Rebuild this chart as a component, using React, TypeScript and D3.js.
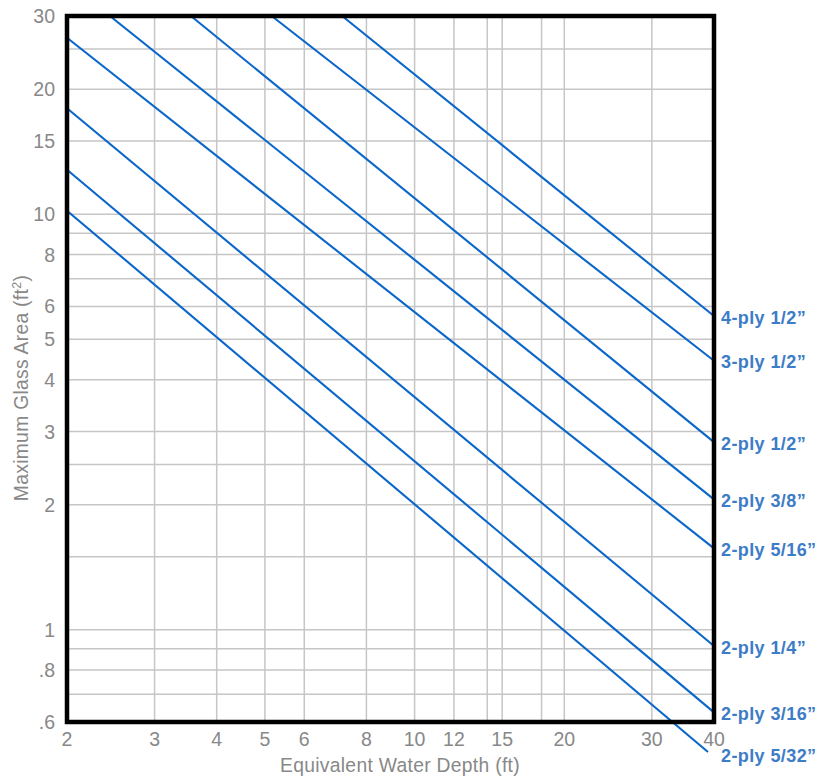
import React, { useEffect, useRef } from 'react';
import * as d3 from 'd3';

// Series (depth in ft, area in ft²)
const seriesLabels = [
  '4-ply 1/2”',
  '3-ply 1/2”',
  '2-ply 1/2”',
  '2-ply 3/8”',
  '2-ply 5/16”',
  '2-ply 1/4”',
  '2-ply 3/16”',
  '2-ply 5/32”',
];
const depthStart = [7.15, 5.16, 3.55, 2.44, 2, 2, 2, 2];
const areaStart = [30, 30, 30, 30, 26.6, 18.0, 12.8, 10.2];
const depthEnd = [40, 40, 40, 40, 40, 40, 40, 38.9];
const areaEnd = [5.69, 4.44, 2.83, 2.06, 1.57, 0.914, 0.633, 0.508];

// Axes
const xTicks = [2, 3, 4, 5, 6, 8, 10, 12, 15, 20, 30, 40];
const xGrid = [3, 4, 5, 6, 8, 10, 12, 14, 15, 18, 20, 30];
const yTicks = [0.6, 0.8, 1, 2, 3, 4, 5, 6, 8, 10, 15, 20, 30];
const yGrid = [0.7, 0.8, 0.9, 1, 1.5, 2, 2.5, 3, 4, 5, 6, 7, 8, 9, 10, 15, 20, 25];

const W = 822;
const H = 781;
const left = 67;
const right = 714;
const top = 16;
const bottom = 722;

const fmtTick = (v: number) => (v < 1 ? String(v).replace(/^0/, '') : String(v));

const App: React.FC = () => {
  const svgRef = useRef<SVGSVGElement>(null);

  useEffect(() => {
    if (!svgRef.current) return;
    const svg = d3.select(svgRef.current);
    svg.selectAll('*').remove();

    const x = d3.scaleLog().domain([2, 40]).range([left, right]);
    const y = d3.scaleLog().domain([0.6, 30]).range([bottom, top]);

    const font = 'Liberation Sans, Arial, Helvetica, sans-serif';
    const gray = '#888888';

    // grid
    const grid = svg.append('g').attr('stroke', '#c6c6c6').attr('stroke-width', 1.5);
    grid.selectAll('.vx')
      .data(xGrid)
      .enter()
      .append('line')
      .attr('x1', d => x(d))
      .attr('x2', d => x(d))
      .attr('y1', top)
      .attr('y2', bottom);
    grid.selectAll('.hy')
      .data(yGrid)
      .enter()
      .append('line')
      .attr('y1', d => y(d))
      .attr('y2', d => y(d))
      .attr('x1', left)
      .attr('x2', right);

    // series lines
    const line = d3.line<[number, number]>()
      .x(d => x(d[0]))
      .y(d => y(d[1]));

    svg.append('g')
      .selectAll('path')
      .data(seriesLabels.map((_, i) => [
        [depthStart[i], areaStart[i]],
        [depthEnd[i], areaEnd[i]],
      ] as [number, number][]))
      .enter()
      .append('path')
      .attr('d', d => line(d))
      .attr('fill', 'none')
      .attr('stroke', '#0a66c8')
      .attr('stroke-width', 2.1);

    // frame
    svg.append('rect')
      .attr('x', left)
      .attr('y', top)
      .attr('width', right - left)
      .attr('height', bottom - top)
      .attr('fill', 'none')
      .attr('stroke', '#000')
      .attr('stroke-width', 4.5);

    // series labels
    svg.append('g')
      .selectAll('text')
      .data(seriesLabels)
      .enter()
      .append('text')
      .attr('x', 721)
      .attr('y', (d, i) => y(areaEnd[i]) + (i === seriesLabels.length - 1 ? 3 : 1))
      .attr('dy', '0.36em')
      .attr('font-family', font)
      .attr('font-weight', 'bold')
      .attr('font-size', 18)
      .attr('letter-spacing', 0.4)
      .attr('fill', '#3d7cc6')
      .text(d => d);

    // x tick labels
    svg.append('g')
      .selectAll('text')
      .data(xTicks)
      .enter()
      .append('text')
      .attr('x', d => x(d))
      .attr('y', 746)
      .attr('text-anchor', 'middle')
      .attr('font-family', font)
      .attr('font-size', 19.5)
      .attr('fill', gray)
      .text(d => fmtTick(d));

    // y tick labels
    svg.append('g')
      .selectAll('text')
      .data(yTicks)
      .enter()
      .append('text')
      .attr('x', 55)
      .attr('y', d => y(d))
      .attr('dy', '0.36em')
      .attr('text-anchor', 'end')
      .attr('font-family', font)
      .attr('font-size', 19.5)
      .attr('fill', gray)
      .text(d => fmtTick(d));

    // axis titles
    svg.append('text')
      .attr('x', 400)
      .attr('y', 772)
      .attr('text-anchor', 'middle')
      .attr('font-family', font)
      .attr('font-size', 19.3)
      .attr('letter-spacing', 0.3)
      .attr('fill', gray)
      .text('Equivalent Water Depth (ft)');

    const yTitle = svg.append('text')
      .attr('transform', 'translate(28,388) rotate(-90)')
      .attr('text-anchor', 'middle')
      .attr('font-family', font)
      .attr('font-size', 19.3)
      .attr('letter-spacing', 0.3)
      .attr('fill', gray);
    yTitle.append('tspan').text('Maximum Glass Area (ft');
    yTitle.append('tspan').attr('font-size', 12.5).attr('dy', -7).text('2');
    yTitle.append('tspan').attr('dy', 7).text(')');
  }, []);

  return (
    <svg
      ref={svgRef}
      width={W}
      height={H}
      style={{ position: 'absolute', left: 0, top: 0, background: '#fff' }}
    />
  );
};

export default App;
